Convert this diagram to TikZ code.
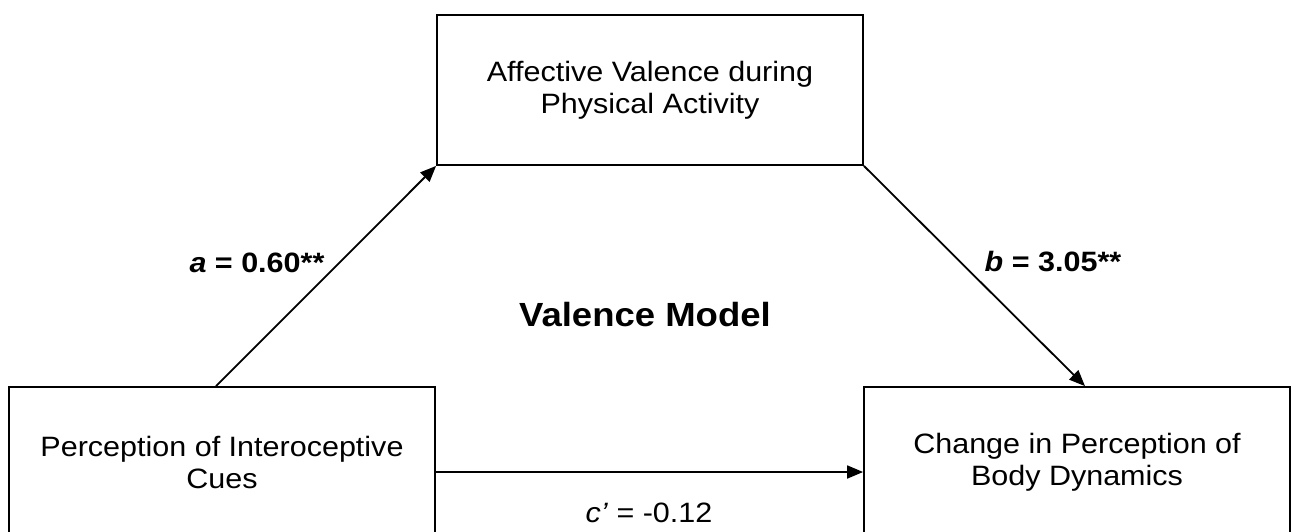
\documentclass[tikz,border=0pt]{standalone}
\usepackage{fontspec}
\setmainfont{Liberation Sans}[FakeStretch=1.09]
\usetikzlibrary{arrows.meta}
\newcommand{\boxfont}{\fontsize{28}{32}\selectfont}
\newcommand{\coeffont}{\fontsize{28}{32}\selectfont\bfseries}

\begin{document}
\begin{tikzpicture}[x=1pt, y=-1pt,
    var/.style={draw, line width=1.8pt, minimum width=426pt, minimum height=150pt,
        inner sep=0pt, align=center, font=\boxfont},
    arr/.style={line width=1.8pt, -{Triangle[length=16pt,width=13pt]}},
    coef/.style={inner sep=0pt, font=\coeffont}]
    \useasboundingbox (0,0) rectangle (1291,531);
    % boxes
    \node[var] (med) at (650,90) {Affective Valence during\\Physical Activity};
    \node[var] (pic) at (222,462) {Perception of Interoceptive\\Cues};
    \node[var] (cbd) at (1077,462) {Change in Perception of\\Body Dynamics};
    % title
    \node[inner sep=0pt, font=\fontsize{33.5}{36}\selectfont\bfseries] (title) at (645,315) {Valence Model};
    % paths
    \draw[arr] ([xshift=-6pt]pic.north) -- (med.south west);
    \draw[arr] (med.south east) -- ([xshift=8pt]cbd.north);
    \draw[arr] ([yshift=-10pt]pic.east) -- ([yshift=-10pt]cbd.west);
    % coefficients
    \node[coef] (lab-a) at (257,263) {\textit{a} = 0.60**};
    \node[coef] (lab-b) at (1053,262) {\textit{b} = 3.05**};
    \node[inner sep=0pt, font=\fontsize{28}{32}\selectfont] (lab-c) at (649,513) {\textit{c’} = -0.12};
\end{tikzpicture}
\end{document}
